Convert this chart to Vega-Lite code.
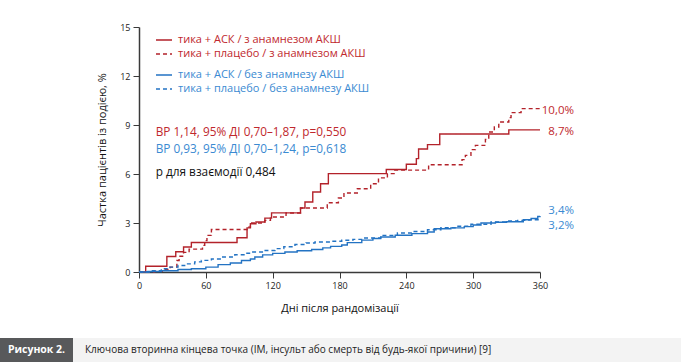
{
  "$schema": "https://vega.github.io/schema/vega-lite/v6.json",
  "padding": {"left": 0, "top": 23, "right": 0, "bottom": 0},
  "spacing": 25,
  "config": {
    "view": {"stroke": null},
    "font": "Open Sans",
    "axis": {
      "grid": false,
      "domainColor": "#3a3a3a",
      "domainWidth": 1.5,
      "tickColor": "#3a3a3a",
      "tickSize": 6,
      "tickWidth": 1,
      "labelFlush": false,
      "labelFont": "Open Sans",
      "labelFontSize": 9,
      "labelColor": "#222222",
      "labelPadding": 3,
      "titleFont": "Open Sans",
      "titleFontSize": 11,
      "titleFontWeight": "normal",
      "titleColor": "#111111"
    },
    "legend": {
      "orient": "none",
      "title": null,
      "padding": 0,
      "symbolType": "stroke",
      "symbolSize": 256,
      "symbolStrokeWidth": 1.4,
      "labelFont": "Open Sans",
      "labelFontSize": 11,
      "labelOffset": 5,
      "labelLimit": 500,
      "rowPadding": 0
    }
  },
  "datasets": {
    "km": [
      {"series": "тика + АСК / з анамнезом АКШ", "day": 0, "pct": 0},
      {"series": "тика + АСК / з анамнезом АКШ", "day": 6, "pct": 0.35},
      {"series": "тика + АСК / з анамнезом АКШ", "day": 25, "pct": 0.95},
      {"series": "тика + АСК / з анамнезом АКШ", "day": 33, "pct": 1.24},
      {"series": "тика + АСК / з анамнезом АКШ", "day": 40, "pct": 1.53},
      {"series": "тика + АСК / з анамнезом АКШ", "day": 47, "pct": 1.81},
      {"series": "тика + АСК / з анамнезом АКШ", "day": 88, "pct": 2.1},
      {"series": "тика + АСК / з анамнезом АКШ", "day": 97, "pct": 2.7},
      {"series": "тика + АСК / з анамнезом АКШ", "day": 100, "pct": 2.95},
      {"series": "тика + АСК / з анамнезом АКШ", "day": 105, "pct": 3.06},
      {"series": "тика + АСК / з анамнезом АКШ", "day": 113, "pct": 3.3},
      {"series": "тика + АСК / з анамнезом АКШ", "day": 119, "pct": 3.62},
      {"series": "тика + АСК / з анамнезом АКШ", "day": 145, "pct": 3.92},
      {"series": "тика + АСК / з анамнезом АКШ", "day": 149, "pct": 4.29},
      {"series": "тика + АСК / з анамнезом АКШ", "day": 156, "pct": 4.9},
      {"series": "тика + АСК / з анамнезом АКШ", "day": 163, "pct": 5.4},
      {"series": "тика + АСК / з анамнезом АКШ", "day": 170, "pct": 6.02},
      {"series": "тика + АСК / з анамнезом АКШ", "day": 222, "pct": 6.28},
      {"series": "тика + АСК / з анамнезом АКШ", "day": 240, "pct": 6.6},
      {"series": "тика + АСК / з анамнезом АКШ", "day": 249, "pct": 6.94},
      {"series": "тика + АСК / з анамнезом АКШ", "day": 251, "pct": 7.53},
      {"series": "тика + АСК / з анамнезом АКШ", "day": 259, "pct": 7.8},
      {"series": "тика + АСК / з анамнезом АКШ", "day": 270, "pct": 8.45},
      {"series": "тика + АСК / з анамнезом АКШ", "day": 332, "pct": 8.7},
      {"series": "тика + АСК / з анамнезом АКШ", "day": 360, "pct": 8.7},

      {"series": "тика + плацебо / з анамнезом АКШ", "day": 0, "pct": 0},
      {"series": "тика + плацебо / з анамнезом АКШ", "day": 14, "pct": 0.05},
      {"series": "тика + плацебо / з анамнезом АКШ", "day": 21, "pct": 0.15},
      {"series": "тика + плацебо / з анамнезом АКШ", "day": 28, "pct": 0.3},
      {"series": "тика + плацебо / з анамнезом АКШ", "day": 34, "pct": 0.7},
      {"series": "тика + плацебо / з анамнезом АКШ", "day": 36, "pct": 0.96},
      {"series": "тика + плацебо / з анамнезом АКШ", "day": 40, "pct": 1.2},
      {"series": "тика + плацебо / з анамнезом АКШ", "day": 45, "pct": 1.4},
      {"series": "тика + плацебо / з анамнезом АКШ", "day": 57, "pct": 1.63},
      {"series": "тика + плацебо / з анамнезом АКШ", "day": 59, "pct": 1.92},
      {"series": "тика + плацебо / з анамнезом АКШ", "day": 61, "pct": 2.24},
      {"series": "тика + плацебо / з анамнезом АКШ", "day": 65, "pct": 2.6},
      {"series": "тика + плацебо / з анамнезом АКШ", "day": 97, "pct": 2.75},
      {"series": "тика + плацебо / з анамнезом АКШ", "day": 100, "pct": 3.0},
      {"series": "тика + плацебо / з анамнезом АКШ", "day": 113, "pct": 3.16},
      {"series": "тика + плацебо / з анамнезом АКШ", "day": 118, "pct": 3.37},
      {"series": "тика + плацебо / з анамнезом АКШ", "day": 132, "pct": 3.61},
      {"series": "тика + плацебо / з анамнезом АКШ", "day": 145, "pct": 3.92},
      {"series": "тика + плацебо / з анамнезом АКШ", "day": 169, "pct": 4.24},
      {"series": "тика + плацебо / з анамнезом АКШ", "day": 179, "pct": 4.53},
      {"series": "тика + плацебо / з анамнезом АКШ", "day": 184, "pct": 4.84},
      {"series": "тика + плацебо / з анамнезом АКШ", "day": 196, "pct": 5.1},
      {"series": "тика + плацебо / з анамнезом АКШ", "day": 208, "pct": 5.4},
      {"series": "тика + плацебо / з анамнезом АКШ", "day": 215, "pct": 5.76},
      {"series": "тика + плацебо / з анамнезом АКШ", "day": 223, "pct": 6.02},
      {"series": "тика + плацебо / з анамнезом АКШ", "day": 229, "pct": 6.24},
      {"series": "тика + плацебо / з анамнезом АКШ", "day": 260, "pct": 6.57},
      {"series": "тика + плацебо / з анамнезом АКШ", "day": 290, "pct": 6.88},
      {"series": "тика + плацебо / з анамнезом АКШ", "day": 293, "pct": 7.14},
      {"series": "тика + плацебо / з анамнезом АКШ", "day": 298, "pct": 7.49},
      {"series": "тика + плацебо / з анамнезом АКШ", "day": 302, "pct": 7.75},
      {"series": "тика + плацебо / з анамнезом АКШ", "day": 311, "pct": 8.12},
      {"series": "тика + плацебо / з анамнезом АКШ", "day": 314, "pct": 8.57},
      {"series": "тика + плацебо / з анамнезом АКШ", "day": 319, "pct": 8.88},
      {"series": "тика + плацебо / з анамнезом АКШ", "day": 323, "pct": 9.18},
      {"series": "тика + плацебо / з анамнезом АКШ", "day": 332, "pct": 9.45},
      {"series": "тика + плацебо / з анамнезом АКШ", "day": 334, "pct": 9.76},
      {"series": "тика + плацебо / з анамнезом АКШ", "day": 343, "pct": 10.0},
      {"series": "тика + плацебо / з анамнезом АКШ", "day": 360, "pct": 10.0},

      {"series": "тика + АСК  / без анамнезу АКШ", "day": 0, "pct": 0},
      {"series": "тика + АСК  / без анамнезу АКШ", "day": 8, "pct": 0.03},
      {"series": "тика + АСК  / без анамнезу АКШ", "day": 20, "pct": 0.08},
      {"series": "тика + АСК  / без анамнезу АКШ", "day": 35, "pct": 0.15},
      {"series": "тика + АСК  / без анамнезу АКШ", "day": 47, "pct": 0.2},
      {"series": "тика + АСК  / без анамнезу АКШ", "day": 60, "pct": 0.3},
      {"series": "тика + АСК  / без анамнезу АКШ", "day": 71, "pct": 0.45},
      {"series": "тика + АСК  / без анамнезу АКШ", "day": 82, "pct": 0.55},
      {"series": "тика + АСК  / без анамнезу АКШ", "day": 92, "pct": 0.7},
      {"series": "тика + АСК  / без анамнезу АКШ", "day": 100, "pct": 0.8},
      {"series": "тика + АСК  / без анамнезу АКШ", "day": 104, "pct": 0.92},
      {"series": "тика + АСК  / без анамнезу АКШ", "day": 111, "pct": 1.05},
      {"series": "тика + АСК  / без анамнезу АКШ", "day": 120, "pct": 1.14},
      {"series": "тика + АСК  / без анамнезу АКШ", "day": 131, "pct": 1.22},
      {"series": "тика + АСК  / без анамнезу АКШ", "day": 142, "pct": 1.3},
      {"series": "тика + АСК  / без анамнезу АКШ", "day": 155, "pct": 1.38},
      {"series": "тика + АСК  / без анамнезу АКШ", "day": 165, "pct": 1.48},
      {"series": "тика + АСК  / без анамнезу АКШ", "day": 172, "pct": 1.57},
      {"series": "тика + АСК  / без анамнезу АКШ", "day": 182, "pct": 1.65},
      {"series": "тика + АСК  / без анамнезу АКШ", "day": 187, "pct": 1.8},
      {"series": "тика + АСК  / без анамнезу АКШ", "day": 200, "pct": 1.95},
      {"series": "тика + АСК  / без анамнезу АКШ", "day": 210, "pct": 2.05},
      {"series": "тика + АСК  / без анамнезу АКШ", "day": 217, "pct": 2.14},
      {"series": "тика + АСК  / без анамнезу АКШ", "day": 230, "pct": 2.25},
      {"series": "тика + АСК  / без анамнезу АКШ", "day": 245, "pct": 2.35},
      {"series": "тика + АСК  / без анамнезу АКШ", "day": 259, "pct": 2.45},
      {"series": "тика + АСК  / без анамнезу АКШ", "day": 265, "pct": 2.65},
      {"series": "тика + АСК  / без анамнезу АКШ", "day": 280, "pct": 2.7},
      {"series": "тика + АСК  / без анамнезу АКШ", "day": 292, "pct": 2.78},
      {"series": "тика + АСК  / без анамнезу АКШ", "day": 300, "pct": 2.88},
      {"series": "тика + АСК  / без анамнезу АКШ", "day": 307, "pct": 3.0},
      {"series": "тика + АСК  / без анамнезу АКШ", "day": 320, "pct": 3.05},
      {"series": "тика + АСК  / без анамнезу АКШ", "day": 330, "pct": 3.08},
      {"series": "тика + АСК  / без анамнезу АКШ", "day": 345, "pct": 3.2},
      {"series": "тика + АСК  / без анамнезу АКШ", "day": 352, "pct": 3.28},
      {"series": "тика + АСК  / без анамнезу АКШ", "day": 358, "pct": 3.4},
      {"series": "тика + АСК  / без анамнезу АКШ", "day": 360, "pct": 3.43},

      {"series": "тика + плацебо / без анамнезу АКШ", "day": 0, "pct": 0},
      {"series": "тика + плацебо / без анамнезу АКШ", "day": 10, "pct": 0.08},
      {"series": "тика + плацебо / без анамнезу АКШ", "day": 20, "pct": 0.2},
      {"series": "тика + плацебо / без анамнезу АКШ", "day": 26, "pct": 0.3},
      {"series": "тика + плацебо / без анамнезу АКШ", "day": 35, "pct": 0.4},
      {"series": "тика + плацебо / без анамнезу АКШ", "day": 41, "pct": 0.5},
      {"series": "тика + плацебо / без анамнезу АКШ", "day": 50, "pct": 0.62},
      {"series": "тика + плацебо / без анамнезу АКШ", "day": 56, "pct": 0.71},
      {"series": "тика + плацебо / без анамнезу АКШ", "day": 65, "pct": 0.8},
      {"series": "тика + плацебо / без анамнезу АКШ", "day": 74, "pct": 0.92},
      {"series": "тика + плацебо / без анамнезу АКШ", "day": 86, "pct": 1.06},
      {"series": "тика + плацебо / без анамнезу АКШ", "day": 95, "pct": 1.15},
      {"series": "тика + плацебо / без анамнезу АКШ", "day": 101, "pct": 1.22},
      {"series": "тика + плацебо / без анамнезу АКШ", "day": 112, "pct": 1.32},
      {"series": "тика + плацебо / без анамнезу АКШ", "day": 122, "pct": 1.43},
      {"series": "тика + плацебо / без анамнезу АКШ", "day": 130, "pct": 1.55},
      {"series": "тика + плацебо / без анамнезу АКШ", "day": 140, "pct": 1.68},
      {"series": "тика + плацебо / без анамнезу АКШ", "day": 150, "pct": 1.78},
      {"series": "тика + плацебо / без анамнезу АКШ", "day": 158, "pct": 1.84},
      {"series": "тика + плацебо / без анамнезу АКШ", "day": 172, "pct": 1.88},
      {"series": "тика + плацебо / без анамнезу АКШ", "day": 182, "pct": 1.94},
      {"series": "тика + плацебо / без анамнезу АКШ", "day": 192, "pct": 2.0},
      {"series": "тика + плацебо / без анамнезу АКШ", "day": 202, "pct": 2.08},
      {"series": "тика + плацебо / без анамнезу АКШ", "day": 217, "pct": 2.24},
      {"series": "тика + плацебо / без анамнезу АКШ", "day": 232, "pct": 2.39},
      {"series": "тика + плацебо / без анамнезу АКШ", "day": 245, "pct": 2.48},
      {"series": "тика + плацебо / без анамнезу АКШ", "day": 259, "pct": 2.59},
      {"series": "тика + плацебо / без анамнезу АКШ", "day": 271, "pct": 2.71},
      {"series": "тика + плацебо / без анамнезу АКШ", "day": 285, "pct": 2.8},
      {"series": "тика + плацебо / без анамнезу АКШ", "day": 298, "pct": 2.92},
      {"series": "тика + плацебо / без анамнезу АКШ", "day": 316, "pct": 3.06},
      {"series": "тика + плацебо / без анамнезу АКШ", "day": 330, "pct": 3.12},
      {"series": "тика + плацебо / без анамнезу АКШ", "day": 340, "pct": 3.16},
      {"series": "тика + плацебо / без анамнезу АКШ", "day": 350, "pct": 3.2},
      {"series": "тика + плацебо / без анамнезу АКШ", "day": 360, "pct": 3.22}
    ],
    "ends": [
      {"series": "тика + плацебо / з анамнезом АКШ", "day": 360, "pct": 10.0, "label": "10,0%"},
      {"series": "тика + АСК / з анамнезом АКШ", "day": 360, "pct": 8.7, "label": "8,7%"},
      {"series": "тика + АСК  / без анамнезу АКШ", "day": 360, "pct": 3.4, "label": "3,4%"},
      {"series": "тика + плацебо / без анамнезу АКШ", "day": 360, "pct": 3.2, "label": "3,2%"}
    ]
  },
  "vconcat": [
    {
      "spacing": 0,
      "hconcat": [
        {
          "width": 96,
          "height": 245,
          "data": {"values": []},
          "mark": {"type": "point", "opacity": 0}
        },
        {
          "width": 401,
          "height": 245,
          "layer": [
            {
              "data": {"name": "km"},
              "transform": [{"filter": {"field": "series", "oneOf": ["тика + АСК / з анамнезом АКШ", "тика + плацебо / з анамнезом АКШ"]}}],
              "mark": {"type": "line", "interpolate": "step-after", "strokeWidth": 1.4},
              "encoding": {
                "x": {"field": "day", "type": "quantitative", "title": "Дні після рандомізації",
                      "scale": {"domain": [0, 360], "nice": false},
                      "axis": {"values": [0, 60, 120, 180, 240, 300, 360], "titlePadding": 12}},
                "y": {"field": "pct", "type": "quantitative", "title": "Частка пацієнтів із подією, %",
                      "scale": {"domain": [0, 15], "nice": false},
                      "axis": {"values": [0, 3, 6, 9, 12, 15], "titlePadding": 12}},
                "color": {"field": "series", "type": "nominal",
                          "scale": {"domain": ["тика + АСК / з анамнезом АКШ", "тика + плацебо / з анамнезом АКШ"], "range": ["#b3222a", "#b3222a"]},
                          "legend": {"legendX": 16, "legendY": 4, "labelColor": "#c0282d"}},
                "strokeDash": {"field": "series", "type": "nominal",
                          "scale": {"domain": ["тика + АСК / з анамнезом АКШ", "тика + плацебо / з анамнезом АКШ"], "range": [[1, 0], [4, 3]]},
                          "legend": {"legendX": 16, "legendY": 4, "labelColor": "#c0282d"}}
              }
            },
            {
              "data": {"name": "km"},
              "transform": [{"filter": {"field": "series", "oneOf": ["тика + АСК  / без анамнезу АКШ", "тика + плацебо / без анамнезу АКШ"]}}],
              "mark": {"type": "line", "interpolate": "step-after", "strokeWidth": 1.4},
              "encoding": {
                "x": {"field": "day", "type": "quantitative", "title": "Дні після рандомізації"},
                "y": {"field": "pct", "type": "quantitative", "title": "Частка пацієнтів із подією, %"},
                "color": {"field": "series", "type": "nominal",
                          "scale": {"domain": ["тика + АСК  / без анамнезу АКШ", "тика + плацебо / без анамнезу АКШ"], "range": ["#2373c3", "#2373c3"]},
                          "legend": {"legendX": 16, "legendY": 39, "labelColor": "#3a8ad2"}},
                "strokeDash": {"field": "series", "type": "nominal",
                          "scale": {"domain": ["тика + АСК  / без анамнезу АКШ", "тика + плацебо / без анамнезу АКШ"], "range": [[1, 0], [4, 3]]},
                          "legend": {"legendX": 16, "legendY": 39, "labelColor": "#3a8ad2"}}
              }
            },
            {
              "data": {"name": "ends"},
              "transform": [{"filter": {"field": "series", "oneOf": ["тика + АСК / з анамнезом АКШ", "тика + плацебо / з анамнезом АКШ"]}}],
              "mark": {"type": "text", "align": "right", "baseline": "middle", "dx": 34, "dy": 2, "fontSize": 11.5, "color": "#c0282d"},
              "encoding": {
                "x": {"field": "day", "type": "quantitative", "title": "Дні після рандомізації"},
                "y": {"field": "pct", "type": "quantitative", "title": "Частка пацієнтів із подією, %"},
                "text": {"field": "label"}
              }
            },
            {
              "data": {"name": "ends"},
              "transform": [{"filter": {"field": "series", "equal": "тика + АСК  / без анамнезу АКШ"}}],
              "mark": {"type": "text", "align": "right", "baseline": "middle", "dx": 34, "dy": -5, "fontSize": 11.5, "color": "#3a8ad2"},
              "encoding": {
                "x": {"field": "day", "type": "quantitative", "title": "Дні після рандомізації"},
                "y": {"field": "pct", "type": "quantitative", "title": "Частка пацієнтів із подією, %"},
                "text": {"field": "label"}
              }
            },
            {
              "data": {"name": "ends"},
              "transform": [{"filter": {"field": "series", "equal": "тика + плацебо / без анамнезу АКШ"}}],
              "mark": {"type": "text", "align": "right", "baseline": "middle", "dx": 34, "dy": 6, "fontSize": 11.5, "color": "#3a8ad2"},
              "encoding": {
                "x": {"field": "day", "type": "quantitative", "title": "Дні після рандомізації"},
                "y": {"field": "pct", "type": "quantitative", "title": "Частка пацієнтів із подією, %"},
                "text": {"field": "label"}
              }
            },
            {
              "data": {"values": [{}]},
              "mark": {"type": "text", "align": "left", "baseline": "middle", "fontSize": 11.8, "color": "#c0282d"},
              "encoding": {
                "x": {"datum": 15, "type": "quantitative", "title": "Дні після рандомізації"},
                "y": {"datum": 8.6, "type": "quantitative", "title": "Частка пацієнтів із подією, %"},
                "text": {"value": "ВР 1,14, 95% ДІ 0,70–1,87, p=0,550"}
              }
            },
            {
              "data": {"values": [{}]},
              "mark": {"type": "text", "align": "left", "baseline": "middle", "fontSize": 11.8, "color": "#3a8ad2"},
              "encoding": {
                "x": {"datum": 15, "type": "quantitative", "title": "Дні після рандомізації"},
                "y": {"datum": 7.52, "type": "quantitative", "title": "Частка пацієнтів із подією, %"},
                "text": {"value": "ВР 0,93, 95% ДІ 0,70–1,24, p=0,618"}
              }
            },
            {
              "data": {"values": [{}]},
              "mark": {"type": "text", "align": "left", "baseline": "middle", "fontSize": 11.8, "color": "#111111"},
              "encoding": {
                "x": {"datum": 15, "type": "quantitative", "title": "Дні після рандомізації"},
                "y": {"datum": 6.12, "type": "quantitative", "title": "Частка пацієнтів із подією, %"},
                "text": {"value": "р для взаємодії 0,484"}
              }
            }
          ],
          "resolve": {"scale": {"color": "independent", "strokeDash": "independent"}}
        }
      ]
    },
    {
      "spacing": 0,
      "hconcat": [
        {
          "width": 73,
          "height": 24,
          "view": {"fill": "#58595b"},
          "data": {"values": [{}]},
          "mark": {"type": "text", "color": "#ffffff", "fontWeight": "bold", "fontSize": 10.5, "baseline": "middle", "align": "center"},
          "encoding": {"text": {"value": "Рисунок 2."}}
        },
        {
          "width": 608,
          "height": 24,
          "view": {"fill": "#f3f3f3"},
          "data": {"values": [{}]},
          "mark": {"type": "text", "color": "#222222", "fontSize": 10, "baseline": "middle", "align": "left", "dx": 12},
          "encoding": {
            "x": {"datum": 0, "type": "quantitative", "scale": {"domain": [0, 1]}, "axis": null},
            "text": {"value": "Ключова вторинна кінцева точка (ІМ, інсульт або смерть від будь-якої причини) [9]"}
          }
        }
      ]
    }
  ]
}
